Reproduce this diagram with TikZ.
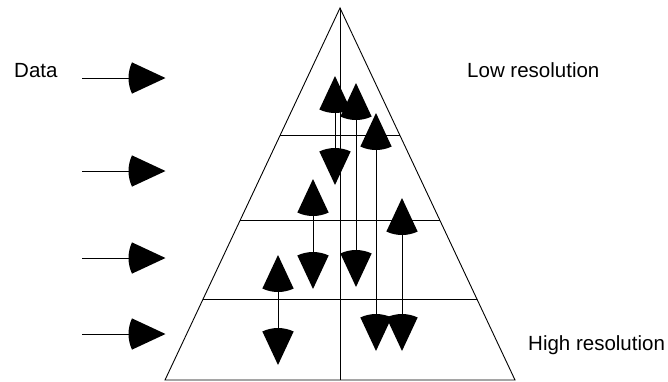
\documentclass[tikz,border=0pt]{standalone}
\usepackage{fontspec}
\setmainfont{Liberation Sans}
\usetikzlibrary{arrows.meta,calc}

% fan shaped arrow tip: a filled circular sector around the tip
\pgfdeclarearrow{
  name = Fan,
  parameters = {\the\pgfarrowlength},
  setup code = {
    \pgfarrowssettipend{0pt}
    \pgfarrowssetlineend{-.8\pgfarrowlength}
    \pgfarrowssetbackend{-\pgfarrowlength}
    \pgfarrowssavethe\pgfarrowlength
  },
  drawing code = {
    \pgfpathmoveto{\pgfpointorigin}
    \pgfpathlineto{\pgfpointpolar{155}{\pgfarrowlength}}
    \pgfpatharc{155}{205}{\pgfarrowlength}
    \pgfpathclose
    \pgfusepathqfill
  },
  defaults = {length = 37pt}
}

\begin{document}
\begin{tikzpicture}[
  x=1pt,y=-1pt,
  edge/.style={line width=.9pt},
  feed/.style={-{Fan},line width=.6pt},
  dub/.style={{Fan}-{Fan},line width=.6pt},
  label/.style={anchor=base west,inner sep=0pt,font=\fontsize{20.5}{24}\selectfont}
]
\useasboundingbox (0,0) rectangle (668,381);

% pyramid
\coordinate (apex) at (340,8);
\coordinate (bl) at (165,380);
\coordinate (br) at (515,380);
\coordinate (bc) at (340,380);
\draw[edge] (apex) -- (br) -- (bl) -- cycle;
\draw[edge] (apex) -- (bc);
\foreach \t/\n in {0.3414/1,0.5699/2,0.7823/3}{
  \draw[edge] ($(apex)!\t!(bl)$) coordinate (l\n) -- ($(apex)!\t!(br)$) coordinate (r\n);
}

% labels
\node[label] (data) at (14,77.7) {Data};
\node[label] (low) at (467,77.7) {Low resolution};
\node[label] (high) at (528,350) {High resolution};

% incoming data
\foreach \y/\n in {78/1,171/2,258/3,334/4}{
  \coordinate (in\n) at (82,\y);
  \coordinate (at\n) at (165.5,\y);
  \draw[feed] (in\n) -- (at\n);
}

% vertical exchanges between levels
\foreach \x/\ya/\yb/\n in {335/76/185/a,356/83/287/b,376/113/351/c,402/198/351/d,313/179/289/e,278/255/365/f}{
  \coordinate (up\n) at (\x,\ya);
  \coordinate (dn\n) at (\x,\yb);
  \draw[dub] (up\n) -- (dn\n);
}
\end{tikzpicture}
\end{document}
